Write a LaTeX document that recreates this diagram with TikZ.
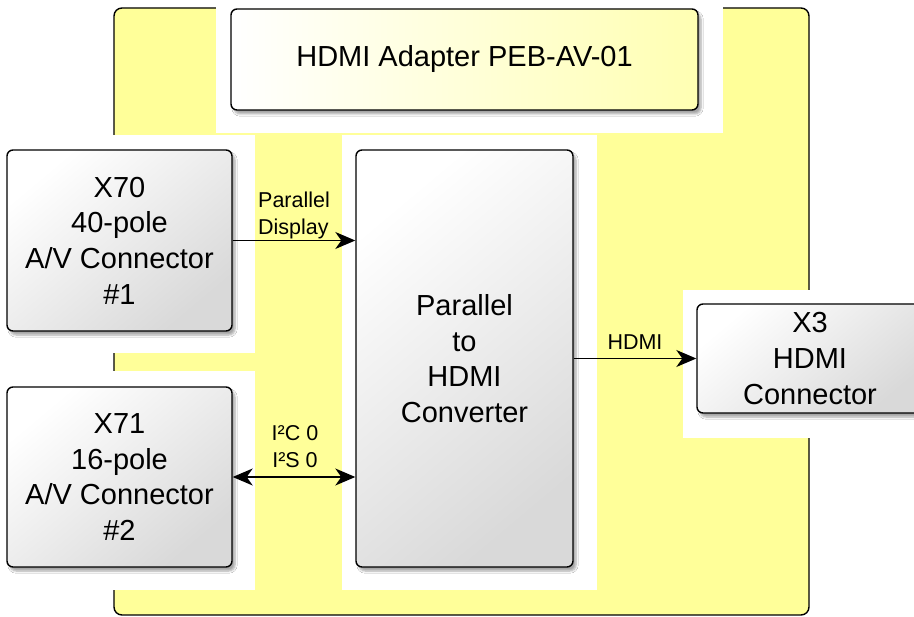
\documentclass[tikz,border=0pt]{standalone}
\usepackage{fontspec}
\setmainfont{Liberation Sans}
\usetikzlibrary{arrows.meta,shadows.blur}
\definecolor{boardyellow}{HTML}{FFFF99}

\begin{document}
\begin{tikzpicture}[x=1pt, y=-1pt,
        >={Stealth[length=20pt,width=17pt,inset=6pt]},
        block/.style={draw, line width=1.4pt, rounded corners=6pt, align=center, inner sep=0pt,
            font=\fontsize{29}{35.7}\selectfont, top color=white, bottom color=black!15, shading angle=40,
            blur shadow={shadow xshift=3pt, shadow yshift=-4pt, shadow blur steps=6, shadow opacity=35}},
        halo/.style={fill=white},
        link/.style={line width=1.5pt},
        lbl/.style={font=\fontsize{21.5}{27}\selectfont, inner sep=0pt}]
    \useasboundingbox (0,0) rectangle (914,617);
    % board and the white space round each block
    \draw[line width=1.4pt, rounded corners=8pt, fill=boardyellow] (114,8) rectangle (809,615);
    \fill[halo] (216,0) rectangle (723,133);
    \fill[halo] (0,135) rectangle (255,353);
    \fill[halo] (342,135) rectangle (597,590);
    \fill[halo] (0,371) rectangle (255,590);
    \fill[halo] (683,290) rectangle (914,438);
    % blocks
    \node[block, minimum width=467pt, minimum height=101pt, left color=white, right color=yellow!30]
        (title) at (464.5,59.5) {HDMI Adapter PEB-AV-01};
    \node[block, minimum width=225pt, minimum height=181pt] (x70) at (119.5,240.5)
        {X70\\40-pole\\A/V Connector\\\#1};
    \node[block, minimum width=225pt, minimum height=180pt] (x71) at (119.5,477)
        {X71\\16-pole\\A/V Connector\\\#2};
    \node[block, minimum width=217pt, minimum height=417pt] (conv) at (464.5,358.5)
        {Parallel\\to\\HDMI\\Converter};
    \node[block, minimum width=226pt, minimum height=109pt] (x3) at (810,358.5)
        {X3\\HDMI\\Connector};
    % links
    \draw[link, ->] (x70.east) -- (x70.east -| conv.west);
    \draw[link, ->] (conv.east) -- (x3.west);
    \draw[link, <->] (x71.east) -- (x71.east -| conv.west);
    \node[lbl, anchor=south west, align=left] (plab) at (258,239) {Parallel\\Display};
    \node[lbl] (hlab) at (635,342) {HDMI};
    \node[lbl, align=center] (ilab) at (295,447) {I²C 0\\I²S 0};
\end{tikzpicture}
\end{document}
